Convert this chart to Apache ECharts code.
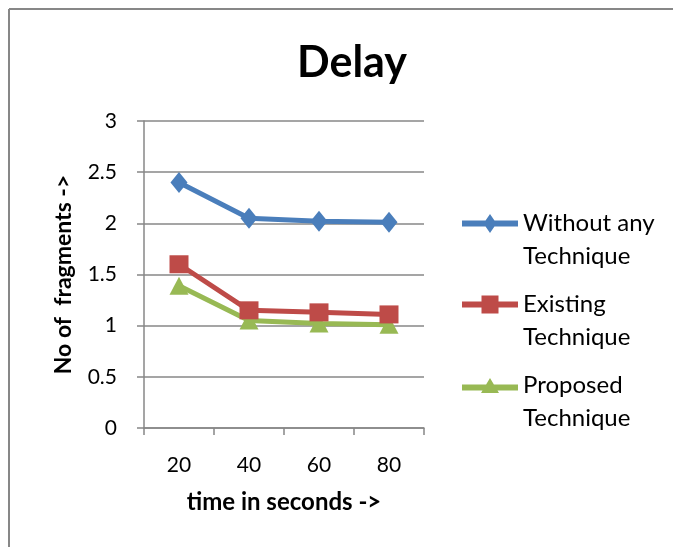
<!DOCTYPE html>
<html><head><meta charset="utf-8">
<script src="https://cdn.jsdelivr.net/npm/echarts@6/dist/echarts.min.js"></script>
<style>html,body{margin:0;padding:0;background:#fff}#c{width:673px;height:547px}</style>
</head><body><div id="c"></div>
<script>
const categories = ['20', '40', '60', '80'];
const seriesNames = ['Without any Technique', 'Existing Technique', 'Proposed Technique'];
const withoutAny = [2.4, 2.05, 2.02, 2.01];
const existing = [1.6, 1.15, 1.13, 1.11];
const proposed = [1.39, 1.05, 1.02, 1.01];
const legendLabels = {
  'Without any Technique': ' \nWithout any\nTechnique',
  'Existing Technique': ' \nExisting\nTechnique',
  'Proposed Technique': ' \nProposed\nTechnique'
};
const colors = ['#4a7ebb', '#be4b48', '#98b954'];
const symbols = ['diamond', 'rect', 'triangle'];
const symbolSizes = [[17, 21], [19, 18], [19, 18]];
const legendIcons = [
  'path://M0 6.5H56V12.5H0Z M28 0L34.5 9.5L28 19L21.5 9.5Z',
  'path://M0 6H56V12H0Z M19.5 0H36.5V18H19.5Z',
  'path://M0 6.5H56V12.5H0Z M28 0L37 15L19 15Z'
];
const legendIconHeights = [19, 18, 15];
const legendTops = [174, 255, 336];
const allData = [withoutAny, existing, proposed];
const font = 'Lato, "Open Sans", sans-serif';

const chart = echarts.init(document.getElementById('c'));
chart.setOption({
  animation: false,
  title: {
    text: 'Delay', left: 347, top: 37, textAlign: 'center',
    textStyle: {fontFamily: font, fontSize: 43, fontWeight: 'bold', color: '#000'}
  },
  graphic: [
    {type: 'line', shape: {x1: 9, y1: 9, x2: 673, y2: 9}, style: {stroke: '#878787', lineWidth: 2}},
    {type: 'line', shape: {x1: 9, y1: 9, x2: 9, y2: 547}, style: {stroke: '#878787', lineWidth: 2}}
  ],
  legend: seriesNames.map((n, i) => ({
    data: [{name: n, icon: legendIcons[i]}], orient: 'vertical', left: 462, top: legendTops[i],
    padding: 0, itemWidth: 56, itemHeight: legendIconHeights[i],
    itemStyle: {color: colors[i]},
    formatter: name => legendLabels[name],
    textStyle: {fontFamily: font, fontSize: 24, color: '#000', lineHeight: 33}
  })),
  grid: {left: 144, right: 249, top: 121, bottom: 119},
  xAxis: {
    type: 'category', data: categories, boundaryGap: true,
    name: 'time in seconds ->', nameLocation: 'middle', nameGap: 62,
    nameTextStyle: {fontFamily: font, fontSize: 24, fontWeight: 'bold', color: '#000'},
    axisLine: {lineStyle: {color: '#878787', width: 1.5}},
    axisTick: {show: true, length: 7, lineStyle: {color: '#878787', width: 1.5}},
    axisLabel: {fontFamily: font, fontSize: 21, color: '#000', margin: 27}
  },
  yAxis: {
    type: 'value', min: 0, max: 3, interval: 0.5,
    name: 'No of  fragments ->', nameLocation: 'middle', nameGap: 69, nameRotate: 90,
    nameTextStyle: {fontFamily: font, fontSize: 23, fontWeight: 'bold', color: '#000'},
    axisLine: {show: true, lineStyle: {color: '#878787', width: 1.5}},
    axisTick: {show: true, length: 7, lineStyle: {color: '#878787', width: 1.5}},
    axisLabel: {fontFamily: font, fontSize: 21, color: '#000', margin: 27},
    splitLine: {lineStyle: {color: '#878787', width: 1.5}}
  },
  series: seriesNames.map((n, i) => ({
    name: n, type: 'line', data: allData[i],
    symbol: symbols[i], symbolSize: symbolSizes[i],
    lineStyle: {color: colors[i], width: 5},
    itemStyle: {color: colors[i]},
    z: 3 - i
  }))
});
</script></body></html>
